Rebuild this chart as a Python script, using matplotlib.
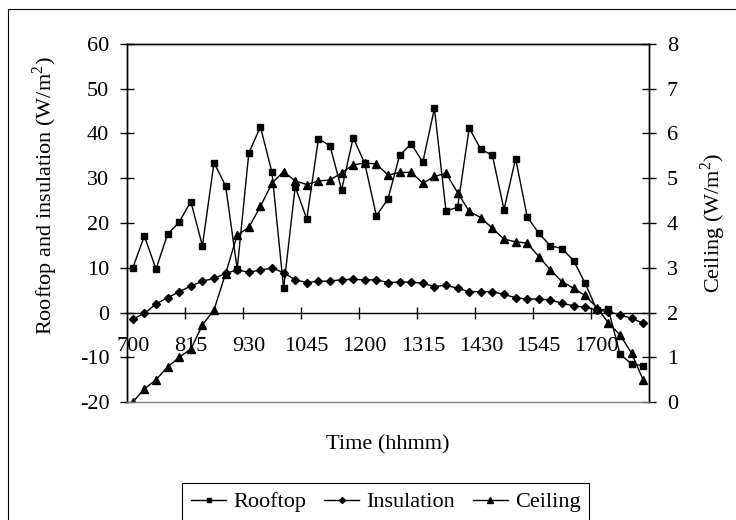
import matplotlib.pyplot as plt
from matplotlib.lines import Line2D

plt.rcParams['font.family'] = 'Liberation Serif'
plt.rcParams['mathtext.fontset'] = 'custom'
plt.rcParams['mathtext.rm'] = 'Liberation Serif'
plt.rcParams['font.size'] = 16
plt.rcParams['axes.unicode_minus'] = False

# Horas (hhmm), cada 15 minutos
horas = ['700', '715', '730', '745', '800', '815', '830', '845', '900', '915',
         '930', '945', '1000', '1015', '1030', '1045', '1100', '1115', '1130', '1145',
         '1200', '1215', '1230', '1245', '1300', '1315', '1330', '1345', '1400', '1415',
         '1430', '1445', '1500', '1515', '1530', '1545', '1600', '1615', '1630', '1645',
         '1700', '1715', '1730', '1745', '1800']

# Flujos de calor (W/m2)
rooftop = [10.0, 17.1, 9.7, 17.5, 20.2, 24.8, 14.9, 33.5, 28.3, 9.7,
           35.6, 41.5, 31.3, 5.4, 28.1, 20.9, 38.8, 37.3, 27.4, 39.1,
           33.3, 21.6, 25.4, 35.1, 37.7, 33.6, 45.6, 22.7, 23.5, 41.2,
           36.5, 35.1, 23.0, 34.4, 21.4, 17.7, 14.9, 14.3, 11.6, 6.5,
           0.6, 0.7, -9.3, -11.5, -11.9]
insulation = [-1.5, -0.2, 1.9, 3.3, 4.65, 5.9, 7.0, 7.6, 8.75, 9.5,
              9.0, 9.5, 9.95, 8.9, 7.3, 6.7, 7.0, 7.0, 7.35, 7.4,
              7.3, 7.3, 6.7, 6.8, 6.8, 6.5, 5.8, 6.1, 5.4, 4.65,
              4.65, 4.65, 4.05, 3.3, 3.0, 3.0, 2.8, 2.05, 1.5, 1.15,
              0.56, 0.2, -0.56, -1.3, -2.4]
ceiling = [0.0, 0.29, 0.5, 0.78, 1.0, 1.18, 1.72, 2.06, 2.87, 3.73,
           3.9, 4.37, 4.89, 5.15, 4.94, 4.86, 4.94, 4.96, 5.12, 5.3,
           5.34, 5.32, 5.07, 5.13, 5.13, 4.89, 5.04, 5.11, 4.68, 4.26,
           4.12, 3.88, 3.64, 3.58, 3.55, 3.25, 2.95, 2.69, 2.54, 2.38,
           2.11, 1.77, 1.5, 1.09, 0.49]

x = list(range(len(horas)))

fig = plt.figure(figsize=(7.36, 5.2), dpi=100)
ax = fig.add_axes([127/736, 1 - 402/520, 522/736, 358/520])
ax2 = ax.twinx()

l1, = ax.plot(x, rooftop, color='black', lw=1, marker='s', ms=4.3, label='Rooftop')
l2, = ax.plot(x, insulation, color='black', lw=1, marker='D', ms=4, label='Insulation')
l3, = ax2.plot(x, ceiling, color='black', lw=1, marker='^', ms=5.5, label='Ceiling')

ax.set_xlim(-0.5, len(horas) - 0.5)
ax.set_ylim(-20, 60)
ax.set_yticks(range(-20, 61, 10))
ax2.set_ylim(0, 8)
ax2.set_yticks(range(0, 9))

# eje de categorias cruzando en 0
ax.spines['bottom'].set_position(('data', 0))
ax2.spines['bottom'].set_color('#808080')
for s in ax.spines.values():
    s.set_linewidth(1)
for s in ax2.spines.values():
    s.set_linewidth(1)

# marcas entre categorias, etiquetas cada 5
ax.set_xticks([i + 4.5 for i in x[::5][:-1]])
ax.set_xticklabels([])
ax.set_xticks(x[::5], labels=horas[::5], minor=True)
ax.tick_params(axis='x', which='major', direction='inout', length=8.6, width=1)
ax.tick_params(axis='x', which='minor', length=0, pad=17.5)
ax.tick_params(axis='y', direction='inout', length=9.4, width=1, pad=8)
ax2.tick_params(axis='y', direction='inout', length=9.4, width=1, pad=8)

fig.text(388/736, 1 - 445/520, 'Time (hhmm)', ha='center', va='center')
fig.text(45/736, 1 - 196/520, r'Rooftop and insulation (W/m$^{\mathrm{2}}$)',
         rotation=90, ha='center', va='center')
fig.text(713/736, 1 - 223/520, r'Ceiling (W/m$^{\mathrm{2}}$)',
         rotation=90, ha='center', va='center')

leg = fig.legend(handles=[l1, l2, l3], loc='upper left',
                 bbox_to_anchor=(182/736, 1 - 483/520), ncol=3,
                 fancybox=False, edgecolor='black', framealpha=1,
                 handlelength=1.6, handletextpad=0.3, columnspacing=0.8,
                 borderpad=0.4, borderaxespad=0, markerscale=0.75, fontsize=16)
leg.get_frame().set_linewidth(0.8)

# borde del area del grafico
fig.add_artist(Line2D([8/736, 8/736], [0, 1 - 9/520], color='black', lw=0.8))
fig.add_artist(Line2D([8/736, 1], [1 - 9/520, 1 - 9/520], color='black', lw=0.8))

fig.savefig('out.png', dpi=100)
